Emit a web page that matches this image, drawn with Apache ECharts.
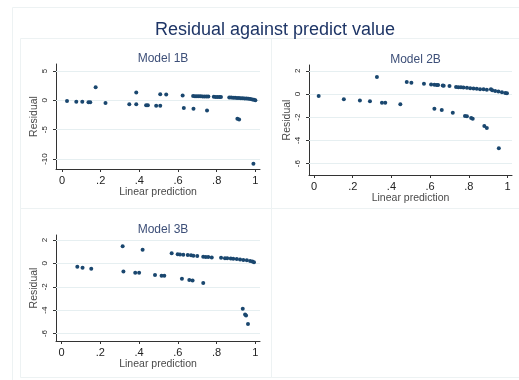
<!DOCTYPE html>
<html>
<head>
<meta charset="utf-8">
<script src="https://cdn.jsdelivr.net/npm/echarts@6/dist/echarts.min.js"></script>
<style>
  html, body { margin: 0; padding: 0; background: #fff; }
  #main { width: 519px; height: 380px; }
</style>
</head>
<body>
<div id="main"></div>
<script>
// 数据：[线性预测值, 残差]
var model1Points = [
  [0.026, -0.12], [0.074, -0.24], [0.105, -0.24], [0.137, -0.34], [0.146, -0.34],
  [0.174, 2.25], [0.225, -0.46], [0.348, -0.68], [0.384, 1.35], [0.384, -0.68],
  [0.435, -0.85], [0.444, -0.85], [0.487, -0.92], [0.508, -0.92], [0.508, 1.05],
  [0.539, 1.0], [0.624, 0.85], [0.630, -1.28], [0.68, -1.42], [0.75, -1.72],
  [0.678, 0.73], [0.688, 0.72], [0.698, 0.71], [0.708, 0.70], [0.718, 0.69],
  [0.728, 0.68], [0.738, 0.67], [0.748, 0.66], [0.757, 0.65],
  [0.785, 0.60], [0.795, 0.59], [0.805, 0.58], [0.815, 0.57], [0.822, 0.56],
  [0.865, 0.48], [0.875, 0.47], [0.885, 0.46], [0.895, 0.44], [0.905, 0.42],
  [0.915, 0.40], [0.925, 0.38], [0.935, 0.36], [0.945, 0.33], [0.955, 0.30],
  [0.965, 0.26], [0.975, 0.22], [0.985, 0.16], [0.993, 0.10], [1.0, 0.04],
  [0.907, -3.15], [0.916, -3.28], [0.99, -10.8]
];
var model2Points = [
  [0.024, -0.17], [0.154, -0.46], [0.237, -0.55], [0.289, -0.63], [0.325, 1.47],
  [0.351, -0.75], [0.368, -0.75], [0.446, -0.89], [0.479, 1.03], [0.503, 0.98],
  [0.568, 0.89], [0.605, 0.83], [0.622, -1.26], [0.66, -1.38], [0.717, -1.61],
  [0.78, -1.9], [0.79, -1.92], [0.812, -2.07], [0.82, -2.13], [0.88, -2.76],
  [0.893, -2.93], [0.955, -4.68],
  [0.622, 0.79], [0.634, 0.78], [0.641, 0.78], [0.665, 0.73], [0.670, 0.72],
  [0.70, 0.69], [0.734, 0.60], [0.746, 0.59], [0.759, 0.58], [0.772, 0.56],
  [0.79, 0.54], [0.807, 0.50], [0.824, 0.47], [0.841, 0.45], [0.858, 0.42],
  [0.876, 0.40], [0.893, 0.36], [0.914, 0.41], [0.921, 0.32], [0.936, 0.27],
  [0.953, 0.21], [0.971, 0.15], [0.988, 0.09], [0.997, 0.06]
];
var model3Points = [
  [0.081, -0.29], [0.108, -0.38], [0.153, -0.46], [0.315, 1.46], [0.319, -0.69],
  [0.418, 1.16], [0.38, -0.80], [0.40, -0.80], [0.482, -1.0], [0.516, -1.06],
  [0.53, -1.06], [0.621, -1.32], [0.659, -1.43], [0.676, -1.46], [0.731, -1.68],
  [0.935, -3.88], [0.947, -4.38], [0.952, -4.46], [0.962, -5.18],
  [0.568, 0.86], [0.599, 0.79], [0.611, 0.77], [0.628, 0.74], [0.651, 0.71],
  [0.668, 0.69], [0.680, 0.66], [0.700, 0.63], [0.731, 0.56], [0.744, 0.55],
  [0.757, 0.54], [0.775, 0.51], [0.823, 0.48], [0.843, 0.45], [0.855, 0.44],
  [0.873, 0.42], [0.886, 0.40], [0.904, 0.37], [0.921, 0.34], [0.938, 0.29],
  [0.956, 0.26], [0.973, 0.21], [0.985, 0.16], [0.993, 0.09]
];
var xTicks = [0, 0.2, 0.4, 0.6, 0.8, 1];
var model1YTicks = [-10, -5, 0, 5];
var model2YTicks = [-6, -4, -2, 0, 2];
var model3YTicks = [-6, -4, -2, 0, 2];
var panelTitles = ['Model 1B', 'Model 2B', 'Model 3B'];

var chart = echarts.init(document.getElementById('main'));
var fontFamily = 'Liberation Sans, Arial, sans-serif';
var navy = '#1a476f';
var gridColor = '#e6eff1';
var axisColor = '#333333';

// 面板位置
var grids = [
  { left: 56, top: 64, width: 204, height: 105 },
  { left: 309, top: 65, width: 203, height: 110 },
  { left: 56, top: 235, width: 204, height: 106 }
];
var xRanges = [[-0.031, 1.024], [-0.026, 1.023], [-0.029, 1.024]];
var yRanges = [[-11.7, 6.2], [-6.98, 2.5], [-6.64, 2.43]];
var yTickSets = [model1YTicks, model2YTicks, model3YTicks];
var pointSets = [model1Points, model2Points, model3Points];

function xFmt (v) {
  if (v === 0 || v === 1) return String(v);
  return String(Math.round(v * 10) / 10).replace(/^0\./, '.');
}

var xAxes = [], yAxes = [], series = [], titles = [];
// 总标题（整张图比窗口略宽，所以中心偏右）
titles.push({
  text: 'Residual against predict value',
  left: 270, top: 16,
  textAlign: 'center',
  textStyle: { fontFamily: fontFamily, fontSize: 18, fontWeight: 'normal', color: '#1e3566' }
});
grids.forEach(function (g, i) {
  titles.push({
    text: panelTitles[i],
    left: g.left + g.width / 2, top: g.top - 16,
    textAlign: 'center',
    textStyle: { fontFamily: fontFamily, fontSize: 12, fontWeight: 'normal', color: '#3d4f78' }
  });
  xAxes.push({
    gridIndex: i,
    type: 'value',
    min: xRanges[i][0],
    max: xRanges[i][1],
    name: 'Linear prediction',
    nameLocation: 'middle',
    nameGap: 17,
    nameTextStyle: { fontFamily: fontFamily, fontSize: 10.5, color: '#4a4a4a' },
    axisLine: { onZero: false, lineStyle: { color: axisColor, width: 1 } },
    axisTick: { show: true, length: 3, customValues: xTicks, lineStyle: { color: axisColor } },
    axisLabel: {
      customValues: xTicks, margin: 6, formatter: xFmt,
      fontFamily: fontFamily, fontSize: 11, color: '#222'
    },
    splitLine: { show: false }
  });
  yAxes.push({
    gridIndex: i,
    type: 'value',
    min: yRanges[i][0],
    max: yRanges[i][1],
    name: 'Residual',
    nameLocation: 'middle',
    nameGap: 16,
    nameTextStyle: { fontFamily: fontFamily, fontSize: 10.5, color: '#4a4a4a' },
    axisLine: { onZero: false, lineStyle: { color: axisColor, width: 1 } },
    axisTick: { show: true, length: 3, customValues: yTickSets[i], lineStyle: { color: axisColor } },
    axisLabel: {
      customValues: yTickSets[i], margin: 7, rotate: 90,
      fontFamily: fontFamily, fontSize: 8, color: '#222'
    },
    splitLine: { show: false }
  });
  series.push({
    type: 'scatter',
    xAxisIndex: i,
    yAxisIndex: i,
    symbolSize: 4,
    itemStyle: { color: navy, opacity: 1 },
    data: pointSets[i],
    markLine: {
      z: 1,
      silent: true,
      symbol: 'none',
      label: { show: false },
      lineStyle: { color: gridColor, type: 'solid', width: 1 },
      data: yTickSets[i].map(function (v) { return { yAxis: v }; })
    }
  });
});

var frameStyle = { stroke: '#edf2f3', fill: 'none', lineWidth: 1 };
var option = {
  backgroundColor: '#ffffff',
  animation: false,
  title: titles,
  grid: grids,
  xAxis: xAxes,
  yAxis: yAxes,
  series: series,
  graphic: [
    { type: 'rect', z: -1, shape: { x: 12.5, y: 7.5, width: 520, height: 380 }, style: frameStyle },
    { type: 'rect', z: -1, shape: { x: 20.5, y: 38.5, width: 251, height: 170 }, style: frameStyle },
    { type: 'rect', z: -1, shape: { x: 271.5, y: 38.5, width: 260, height: 170 }, style: frameStyle },
    { type: 'rect', z: -1, shape: { x: 20.5, y: 208.5, width: 251, height: 169 }, style: frameStyle },
    { type: 'rect', z: -1, shape: { x: 271.5, y: 208.5, width: 260, height: 169 }, style: frameStyle }
  ]
};
chart.setOption(option);
</script>
</body>
</html>
